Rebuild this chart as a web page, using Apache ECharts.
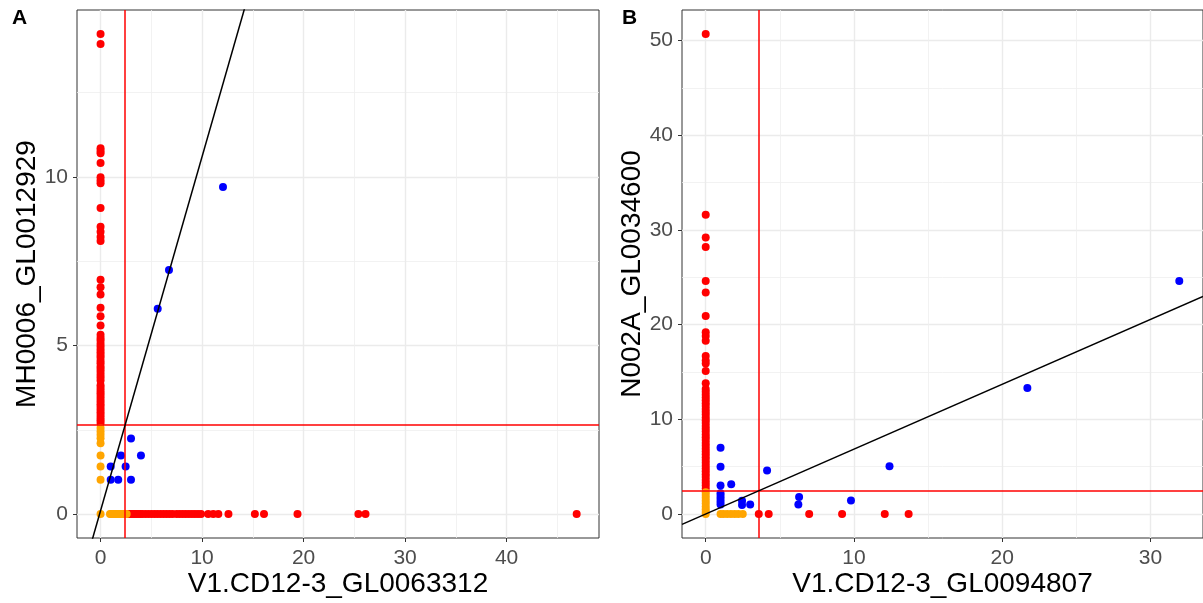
<!DOCTYPE html>
<html><head><meta charset="utf-8">
<script src="https://cdn.jsdelivr.net/npm/echarts@6/dist/echarts.min.js"></script>
<style>html,body{margin:0;padding:0;background:#fff}#c{width:1203px;height:603px}</style>
</head><body><div id="c"></div>
<script>
// ---------- data ----------
const panelTags = ['A', 'B'];
const xTitles = ['V1.CD12-3_GL0063312', 'V1.CD12-3_GL0094807'];
const yTitles = ['MH0006_GL0012929', 'N002A_GL0034600'];

const xTicksA = [0, 10, 20, 30, 40];
const yTicksA = [0, 5, 10];
const xTicksB = [0, 10, 20, 30];
const yTicksB = [0, 10, 20, 30, 40, 50];

const xRangeA = [-2.32, 49.1];
const yRangeA = [-0.71, 14.95];
const xRangeB = [-1.6, 33.55];
const yRangeB = [-2.54, 53.24];

// reference lines: [vertical x, horizontal y], fit [intercept, slope]
const refA = [2.4, 2.64];
const refB = [3.57, 2.41];
const fitA = [0.1, 1.05];
const fitB = [0.0, 0.685];

// Panel A: red points on x = 0 (y values) and on y = 0 (x values)
const A_redCol = [14.24, 13.94, 10.85, 10.77, 10.7, 10.41, 9.99, 9.89, 9.81, 9.08, 8.52, 8.37, 8.22, 8.1,
  6.95, 6.73, 6.51, 6.12, 5.87, 5.59, 5.32, 5.22, 5.15, 5.05, 4.97, 4.88, 4.8, 4.72, 4.64, 4.55, 4.47,
  4.38, 4.3, 4.22, 4.13, 4.05, 3.96, 3.82, 3.74, 3.66, 3.58, 3.5, 3.42, 3.34, 3.26, 3.18, 3.1, 3.02,
  2.94, 2.86, 2.78, 2.7];
const A_redRow = [2.7, 2.9, 3.1, 3.3, 3.5, 3.7, 3.9, 4.1, 4.4, 4.7, 5.0, 5.3, 5.6, 5.9, 6.2, 6.5, 6.8,
  7.1, 7.5, 7.8, 8.1, 8.4, 8.7, 9.0, 9.3, 9.6, 9.9, 10.6, 11.1, 11.6, 12.6, 15.2, 16.1, 19.4, 25.4, 26.1, 46.9];
const A_orangeCol = [0, 1.02, 1.41, 1.74, 2.1, 2.25, 2.35, 2.45, 2.55];
const A_orangeRow = [0.93, 1.05, 1.2, 1.35, 1.5, 1.65, 1.8, 1.95, 2.1, 2.25, 2.4, 2.57];
const A_blue = [[5.63, 6.09], [6.74, 7.24], [12.06, 9.7], [3.0, 2.24], [2.01, 1.74], [3.98, 1.74],
  [1.0, 1.41], [2.47, 1.41], [1.0, 1.02], [1.74, 1.02], [3.0, 1.02]];

// Panel B
const B_redCol = [50.7, 31.6, 29.2, 28.2, 24.6, 23.4, 20.9, 19.2, 18.8, 18.3, 16.7, 16.2, 15.9, 15.1, 13.8,
  13.2, 12.9, 12.6, 12.3, 12.0, 11.7, 11.4, 11.1, 10.8, 10.5, 10.2, 9.9, 9.6, 9.3, 9.0, 8.7, 8.4, 8.1,
  7.8, 7.5, 7.2, 6.9, 6.6, 6.3, 6.0, 5.7, 5.4, 5.1, 4.8, 4.5, 4.2, 3.9, 3.6, 3.3, 3.0, 2.7];
const B_redRow = [3.58, 4.25, 6.98, 9.2, 12.08, 13.69];
const B_orangeCol = [0, 0.2, 0.5, 0.8, 1.1, 1.4, 1.7, 2.0, 2.3];
const B_orangeRow = [1.0, 1.2, 1.45, 1.7, 1.95, 2.2, 2.5];
const B_blue = [[1.0, 7.0], [1.0, 5.0], [1.0, 3.0], [1.0, 2.2], [1.0, 1.9], [1.0, 1.6], [1.0, 1.3], [1.0, 1.0],
  [1.72, 3.15], [2.45, 1.4], [2.45, 0.95], [3.0, 1.0], [4.14, 4.58], [6.3, 1.8], [6.25, 1.0], [9.8, 1.43],
  [12.4, 5.03], [21.7, 13.3], [31.95, 24.6]];

// ---------- chart ----------
const FONT = '"Liberation Sans", Arial, Helvetica, sans-serif';
const RED = '#FF0000', ORANGE = '#FFA500', BLUE = '#0000FF';

const col = (ys) => ys.map(y => [0, y]);
const row = (xs) => xs.map(x => [x, 0]);

function commonAxis(gi, range, ticks, name, split, gap, margin) {
  return {
    type: 'value', gridIndex: gi, min: range[0], max: range[1], splitNumber: split,
    name: name, nameLocation: 'middle', nameGap: gap, nameMoveOverlap: false,
    nameTextStyle: { fontSize: 28, color: '#000', fontFamily: FONT },
    axisLine: { show: false, onZero: false },
    axisTick: { show: true, length: 4, customValues: ticks, lineStyle: { color: '#333', width: 1 } },
    axisLabel: { customValues: ticks, fontSize: 21, color: '#4D4D4D', margin: margin, fontFamily: FONT },
    splitLine: { show: true, lineStyle: { color: '#EBEBEB', width: 1.4 } },
    minorTick: { show: false, splitNumber: 2 },
    minorSplitLine: { show: true, lineStyle: { color: '#EFEFEF', width: 0.8 } }
  };
}
function scatter(gi, data, color) {
  return { type: 'scatter', xAxisIndex: gi, yAxisIndex: gi, data: data, symbolSize: 8,
    itemStyle: { color: color, opacity: 1 }, silent: true, z: 2 };
}
function fitLine(gi, xr, fit, ref) {
  return {
    type: 'line', xAxisIndex: gi, yAxisIndex: gi, showSymbol: false, silent: true, clip: true, z: 5,
    data: [[xr[0], fit[0] + fit[1] * xr[0]], [xr[1], fit[0] + fit[1] * xr[1]]],
    lineStyle: { color: '#000', width: 1.5 },
    markLine: {
      silent: true, symbol: ['none', 'none'], label: { show: false }, animation: false,
      lineStyle: { color: RED, width: 1.5, type: 'solid' },
      data: [{ xAxis: ref[0] }, { yAxis: ref[1] }]
    }
  };
}

const chart = echarts.init(document.getElementById('c'), null, { renderer: 'canvas' });
chart.setOption({
  animation: false,
  backgroundColor: '#fff',
  grid: [
    { left: 77, top: 10, width: 522, height: 532, show: true, borderColor: '#333', borderWidth: 1, containLabel: false },
    { left: 682, top: 10, width: 524, height: 532, show: true, borderColor: '#333', borderWidth: 1, containLabel: false }
  ],
  xAxis: [
    commonAxis(0, xRangeA, xTicksA, xTitles[0], 5, 32, 10),
    commonAxis(1, xRangeB, xTicksB, xTitles[1], 4, 32, 10)
  ],
  yAxis: [
    commonAxis(0, yRangeA, yTicksA, yTitles[0], 3, 36, 9),
    commonAxis(1, yRangeB, yTicksB, yTitles[1], 5, 36, 9)
  ],
  graphic: [
    { type: 'text', left: 12, top: 8, style: { text: panelTags[0], font: 'bold 21px ' + FONT, fill: '#000' } },
    { type: 'text', left: 622, top: 8, style: { text: panelTags[1], font: 'bold 21px ' + FONT, fill: '#000' } }
  ],
  series: [
    scatter(0, col(A_redCol).concat(row(A_redRow)), RED),
    scatter(0, col(A_orangeCol).concat(row(A_orangeRow)), ORANGE),
    scatter(0, A_blue, BLUE),
    fitLine(0, xRangeA, fitA, refA),
    scatter(1, col(B_redCol).concat(row(B_redRow)), RED),
    scatter(1, col(B_orangeCol).concat(row(B_orangeRow)), ORANGE),
    scatter(1, B_blue, BLUE),
    fitLine(1, xRangeB, fitB, refB)
  ]
});
</script>
</body></html>
